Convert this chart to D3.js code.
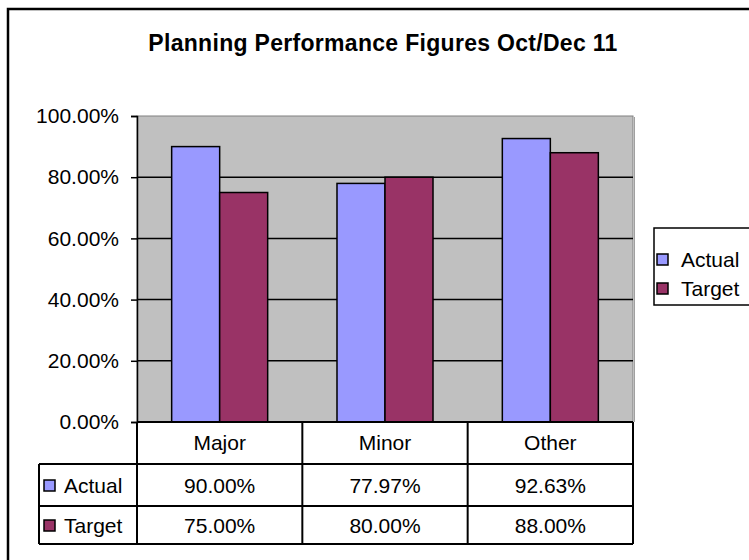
<!DOCTYPE html>
<meta charset="utf-8" />
<style>
  body { margin: 0; background: #fff; }
  text { font-family: Arial, "Liberation Sans", sans-serif; fill: #000; }
</style>
<body>
  <script src="https://d3js.org/d3.v7.min.js"></script>
  <script>
    // chart data
    var categories = ['Major', 'Minor', 'Other'];
    var seriesNames = ['Actual', 'Target'];
    var actualValues = [0.90, 0.7797, 0.9263];
    var targetValues = [0.75, 0.80, 0.88];
    var yTicks = [0, 0.2, 0.4, 0.6, 0.8, 1.0];
    var chartTitle = 'Planning Performance Figures Oct/Dec 11';

    var colors = { Actual: '#9999ff', Target: '#993366' };
    var seriesValues = { Actual: actualValues, Target: targetValues };

    var W = 749, H = 560;
    var fontSize = 21;
    // plot area
    var plot = { left: 137, right: 633, top: 116, bottom: 422 };
    var rowH = 42;

    var svg = d3.select('body').append('svg')
      .attr('width', W)
      .attr('height', H);

    // outer chart frame (runs past the picture on the right / bottom)
    svg.append('rect')
      .attr('x', 8).attr('y', 9)
      .attr('width', 780).attr('height', 600)
      .attr('fill', '#fff')
      .attr('stroke', '#000')
      .attr('stroke-width', 2.5);

    // scales
    var x0 = d3.scaleBand()
      .domain(categories)
      .range([plot.left, plot.right])
      .paddingInner(0).paddingOuter(0);

    var x1 = d3.scaleBand()
      .domain(seriesNames)
      .range([0, x0.bandwidth()])
      .paddingInner(0).paddingOuter(0.722);

    var y = d3.scaleLinear().domain([0, 1]).range([plot.bottom, plot.top]);

    // plot background + little shadow on the right
    svg.append('line')
      .attr('x1', plot.right + 1.5).attr('x2', plot.right + 1.5)
      .attr('y1', plot.top + 1).attr('y2', plot.bottom)
      .attr('stroke', '#a0a0a0').attr('stroke-width', 1);
    svg.append('rect')
      .attr('x', plot.left).attr('y', plot.top)
      .attr('width', plot.right - plot.left)
      .attr('height', plot.bottom - plot.top)
      .attr('fill', '#c0c0c0')
      .attr('stroke', '#808080')
      .attr('stroke-width', 1);

    // gridlines
    svg.append('g')
      .selectAll('line')
      .data(yTicks.filter(function(d) { return d > 0 && d < 1; }))
      .enter().append('line')
      .attr('x1', plot.left).attr('x2', plot.right)
      .attr('y1', function(d) { return y(d); })
      .attr('y2', function(d) { return y(d); })
      .attr('stroke', '#000')
      .attr('stroke-width', 1.5);

    // bars
    var groups = svg.append('g')
      .selectAll('g')
      .data(categories)
      .enter().append('g')
      .attr('transform', function(d) { return 'translate(' + x0(d) + ',0)'; });

    groups.selectAll('rect')
      .data(function(d, i) {
        return seriesNames.map(function(s) { return { key: s, value: seriesValues[s][i] }; });
      })
      .enter().append('rect')
      .attr('x', function(d) { return x1(d.key); })
      .attr('width', x1.bandwidth())
      .attr('y', function(d) { return y(d.value); })
      .attr('height', function(d) { return y(0) - y(d.value); })
      .attr('fill', function(d) { return colors[d.key]; })
      .attr('stroke', '#000')
      .attr('stroke-width', 1.5);

    // y axis
    var yAxis = svg.append('g')
      .attr('transform', 'translate(' + plot.left + ',0)')
      .call(d3.axisLeft(y).tickValues(yTicks).tickFormat(d3.format('.2%')).tickSize(6).tickPadding(12));
    yAxis.select('.domain').attr('stroke', '#000').attr('stroke-width', 1.5);
    yAxis.selectAll('.tick line').attr('stroke', '#000').attr('stroke-width', 1.5);
    yAxis.selectAll('.tick text')
      .attr('font-family', 'Arial, "Liberation Sans", sans-serif')
      .attr('font-size', fontSize)
      .attr('fill', '#000');

    // data table
    var table = svg.append('g');
    var lineStyle = function(sel) { return sel.attr('stroke', '#000').attr('stroke-width', 2); };
    var tableLeft = 39;
    var tableBottom = plot.bottom + rowH * 2 + 38;

    // horizontal lines
    var hLines = [
      { x1: plot.left, x2: plot.right, y: plot.bottom },
      { x1: tableLeft, x2: plot.right, y: plot.bottom + rowH },
      { x1: tableLeft, x2: plot.right, y: plot.bottom + rowH * 2 },
      { x1: tableLeft, x2: plot.right, y: tableBottom }
    ];
    table.selectAll('line.h').data(hLines).enter().append('line')
      .attr('class', 'h')
      .attr('x1', function(d) { return d.x1; })
      .attr('x2', function(d) { return d.x2; })
      .attr('y1', function(d) { return d.y; })
      .attr('y2', function(d) { return d.y; })
      .call(lineStyle);

    // vertical lines
    var vXs = [plot.left].concat(categories.map(function(c) { return x0(c) + x0.bandwidth(); }));
    table.selectAll('line.v').data(vXs).enter().append('line')
      .attr('class', 'v')
      .attr('x1', function(d) { return d; })
      .attr('x2', function(d) { return d; })
      .attr('y1', plot.bottom)
      .attr('y2', tableBottom)
      .call(lineStyle);
    table.append('line')
      .attr('x1', tableLeft).attr('x2', tableLeft)
      .attr('y1', plot.bottom + rowH).attr('y2', tableBottom)
      .call(lineStyle);

    // category labels
    table.selectAll('text.cat').data(categories).enter().append('text')
      .attr('class', 'cat')
      .attr('x', function(d) { return x0(d) + x0.bandwidth() / 2; })
      .attr('y', plot.bottom + rowH / 2)
      .attr('dy', '0.35em')
      .attr('text-anchor', 'middle')
      .attr('font-size', fontSize)
      .text(function(d) { return d; });

    // series rows
    var fmt = d3.format('.2%');
    var rowCenters = [plot.bottom + rowH * 1.5, plot.bottom + rowH * 2 + 19];
    seriesNames.forEach(function(s, si) {
      var cy = rowCenters[si];
      table.append('rect')
        .attr('x', 44).attr('y', cy - 5)
        .attr('width', 11).attr('height', 11)
        .attr('fill', colors[s])
        .attr('stroke', '#000').attr('stroke-width', 1.5);
      table.append('text')
        .attr('x', 64).attr('y', cy + 1)
        .attr('dy', '0.35em')
        .attr('font-size', fontSize)
        .text(s);
      table.selectAll('text.val' + si).data(seriesValues[s]).enter().append('text')
        .attr('class', 'val' + si)
        .attr('x', function(d, i) { return x0(categories[i]) + x0.bandwidth() / 2; })
        .attr('y', cy + 1)
        .attr('dy', '0.35em')
        .attr('text-anchor', 'middle')
        .attr('font-size', fontSize)
        .text(function(d) { return fmt(d); });
    });

    // legend
    var legend = svg.append('g');
    legend.append('rect')
      .attr('x', 654).attr('y', 228)
      .attr('width', 120).attr('height', 77)
      .attr('fill', '#fff')
      .attr('stroke', '#000').attr('stroke-width', 1.5);
    seriesNames.forEach(function(s, i) {
      var cy = 259 + i * 29;
      legend.append('rect')
        .attr('x', 657).attr('y', cy - 5)
        .attr('width', 11).attr('height', 11)
        .attr('fill', colors[s])
        .attr('stroke', '#000').attr('stroke-width', 1.5);
      legend.append('text')
        .attr('x', 681).attr('y', cy + 1)
        .attr('dy', '0.35em')
        .attr('font-size', fontSize)
        .text(s);
    });

    // title
    svg.append('text')
      .attr('x', 383).attr('y', 51)
      .attr('text-anchor', 'middle')
      .attr('font-size', 23)
      .attr('font-weight', 'bold')
      .attr('letter-spacing', 0.3)
      .text(chartTitle);
  </script>
</body>
